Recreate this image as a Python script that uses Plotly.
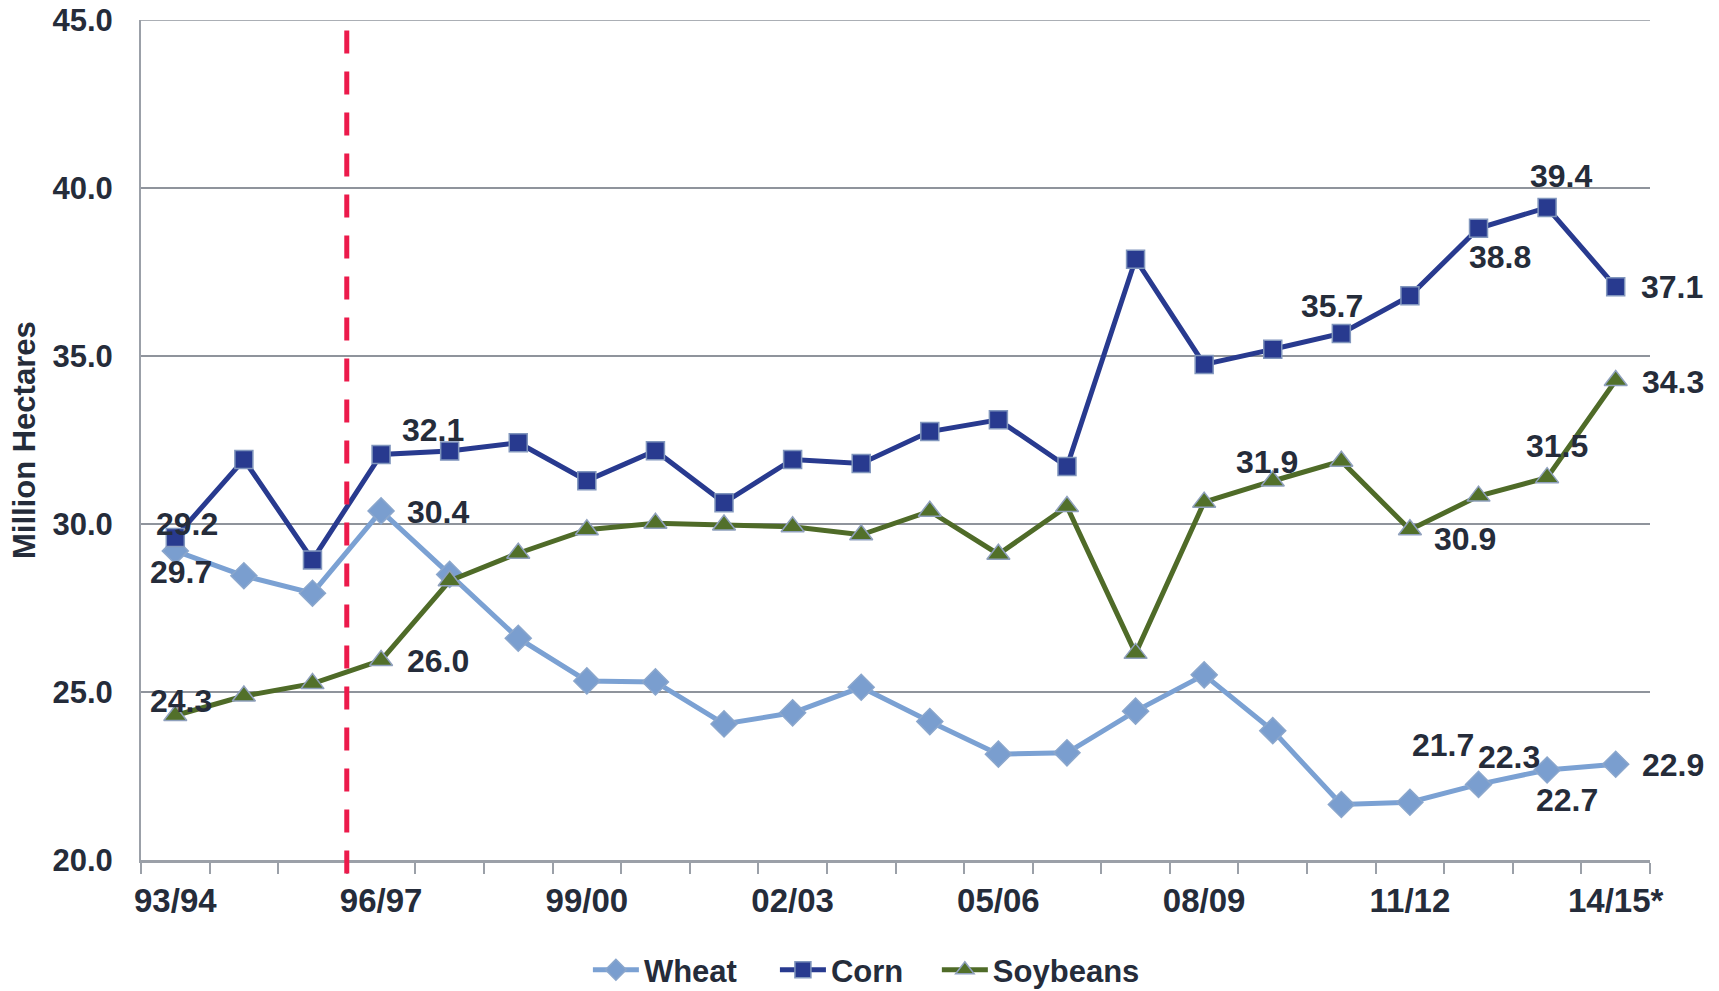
import plotly.graph_objects as go

seasons = ["93/94", "94/95", "95/96", "96/97", "97/98", "98/99", "99/00", "00/01",
           "01/02", "02/03", "03/04", "04/05", "05/06", "06/07", "07/08", "08/09",
           "09/10", "10/11", "11/12", "12/13", "13/14", "14/15*"]
wheat = [29.2, 28.46, 27.94, 30.39, 28.5, 26.6, 25.33, 25.3, 24.05, 24.38, 25.14,
         24.12, 23.15, 23.19, 24.43, 25.51, 23.85, 21.65, 21.72, 22.25, 22.68, 22.85]
corn = [29.6, 31.92, 28.93, 32.07, 32.17, 32.42, 31.29, 32.18, 30.63, 31.92, 31.8,
        32.75, 33.1, 31.71, 37.88, 34.75, 35.2, 35.67, 36.79, 38.8, 39.42, 37.06]
soybeans = [24.3, 24.88, 25.25, 25.94, 28.31, 29.13, 29.83, 30.02, 29.97, 29.92, 29.68,
            30.38, 29.1, 30.52, 26.15, 30.65, 31.28, 31.87, 29.83, 30.83, 31.38, 34.27]
tick_labels = ["93/94", "96/97", "99/00", "02/03", "05/06", "08/09", "11/12", "14/15*"]
y_ticks = [20, 25, 30, 35, 40, 45]
y_title = "Million Hectares"

# data labels: (text, series, index, xshift px, yshift px)
labels = [
    ("29.2", "corn", 0, 12, 13), ("29.7", "wheat", 0, 6, -21), ("24.3", "soy", 0, 6, 15),
    ("32.1", "corn", 3, 52, 24), ("30.4", "wheat", 3, 57, -1), ("26.0", "soy", 3, 57, -1),
    ("39.4", "corn", 20, 14, 31), ("38.8", "corn", 19, 21, -29), ("37.1", "corn", 21, 56, 0),
    ("35.7", "corn", 17, -9, 27), ("34.3", "soy", 21, 57, -1), ("31.9", "soy", 16, -6, 19),
    ("30.9", "soy", 18, 55, -9), ("31.5", "soy", 20, 10, 32), ("21.7", "wheat", 18, 33, 57),
    ("22.3", "wheat", 19, 30, 27), ("22.7", "wheat", 20, 20, -30), ("22.9", "wheat", 21, 57, -1),
]

x = list(range(len(seasons)))
series = {"wheat": wheat, "corn": corn, "soy": soybeans}
TXT = "#252c3a"
FONT = "Liberation Sans, Arial, sans-serif"
GRID = "#8f949c"
AXIS = "#9ba0a8"

fig = go.Figure()
fig.add_trace(go.Scatter(
    x=x, y=wheat, name="Wheat", mode="lines+markers", legend="legend",
    line=dict(color="#7ba1d3", width=5),
    marker=dict(symbol="diamond", size=20, color="#7a9ecf", line=dict(color="#8aa6cc", width=1.5)),
))
fig.add_trace(go.Scatter(
    x=x, y=corn, name="Corn", mode="lines+markers", legend="legend2",
    line=dict(color="#283a8f", width=5),
    marker=dict(symbol="square", size=18, color="#283a8f", line=dict(color="#8196bd", width=1.5)),
))
fig.add_trace(go.Scatter(
    x=x, y=soybeans, name="Soybeans", mode="lines+markers", legend="legend3",
    line=dict(color="#4f6b28", width=5),
    marker=dict(symbol="triangle-up", size=20, color="#52702a", line=dict(color="#8fa0bd", width=1.5)),
))

tick_pos = [seasons.index(t) for t in tick_labels]
boundaries = [i - 0.5 for i in range(len(seasons) + 1)]

annotations = []
for text, s, i, dx, dy in labels:
    annotations.append(dict(
        x=x[i], y=series[s][i], text=text, showarrow=False,
        xshift=dx, yshift=dy, xanchor="center", yanchor="middle",
        font=dict(family=FONT, size=32, color=TXT, weight="bold"),
    ))
annotations.append(dict(
    xref="paper", yref="paper", x=-0.0775, y=0.5, text=y_title, textangle=-90,
    showarrow=False, xanchor="center", yanchor="middle",
    font=dict(family=FONT, size=31, color=TXT, weight="bold"),
))

leg_font = dict(family=FONT, size=31, color=TXT, weight="bold")
def leg(xpos):
    return dict(xref="container", yref="paper", x=xpos, xanchor="left",
                y=-0.131, yanchor="middle", font=leg_font, bgcolor="rgba(0,0,0,0)",
                borderwidth=0, itemwidth=46)

fig.update_layout(
    width=1719, height=991,
    margin=dict(l=141, r=69, t=20, b=131, autoexpand=False),
    paper_bgcolor="white", plot_bgcolor="white",
    font=dict(family=FONT, color=TXT, weight="bold"),
    showlegend=True,
    legend=leg(0.342), legend2=leg(0.4508), legend3=leg(0.545),
    annotations=annotations,
    shapes=[
        dict(type="line", xref="paper", yref="y", x0=0, x1=1, y0=y_ticks[-1], y1=y_ticks[-1],
             line=dict(color=GRID, width=1.5), layer="below"),
        dict(type="line", xref="x", yref="paper", x0=2.5, x1=2.5, y0=-0.016, y1=0.996,
             line=dict(color="#ec1a4b", width=5, dash="23px,18px"), layer="above"),
    ],
)
fig.update_xaxes(
    range=[-0.5, len(seasons) - 0.5], tickmode="array", tickvals=tick_pos, ticktext=tick_labels,
    ticks="", showgrid=False, zeroline=False, automargin=False,
    showline=True, linecolor=AXIS, linewidth=3,
    tickfont=dict(family=FONT, size=33, color=TXT, weight="bold"),
    ticklabelstandoff=9,
    minor=dict(tickmode="array", tickvals=boundaries, ticks="outside", ticklen=11,
               tickcolor=AXIS, tickwidth=2, showgrid=False),
)
fig.update_yaxes(
    range=[20, 45], tickmode="array", tickvals=y_ticks, tickformat=".1f",
    showgrid=True, gridcolor=GRID, gridwidth=1.5, zeroline=False, automargin=False,
    showline=True, linecolor=AXIS, linewidth=2, ticks="",
    tickfont=dict(family=FONT, size=31, color=TXT, weight="bold"),
    ticklabelstandoff=20,
)

fig.write_html("out.html")
